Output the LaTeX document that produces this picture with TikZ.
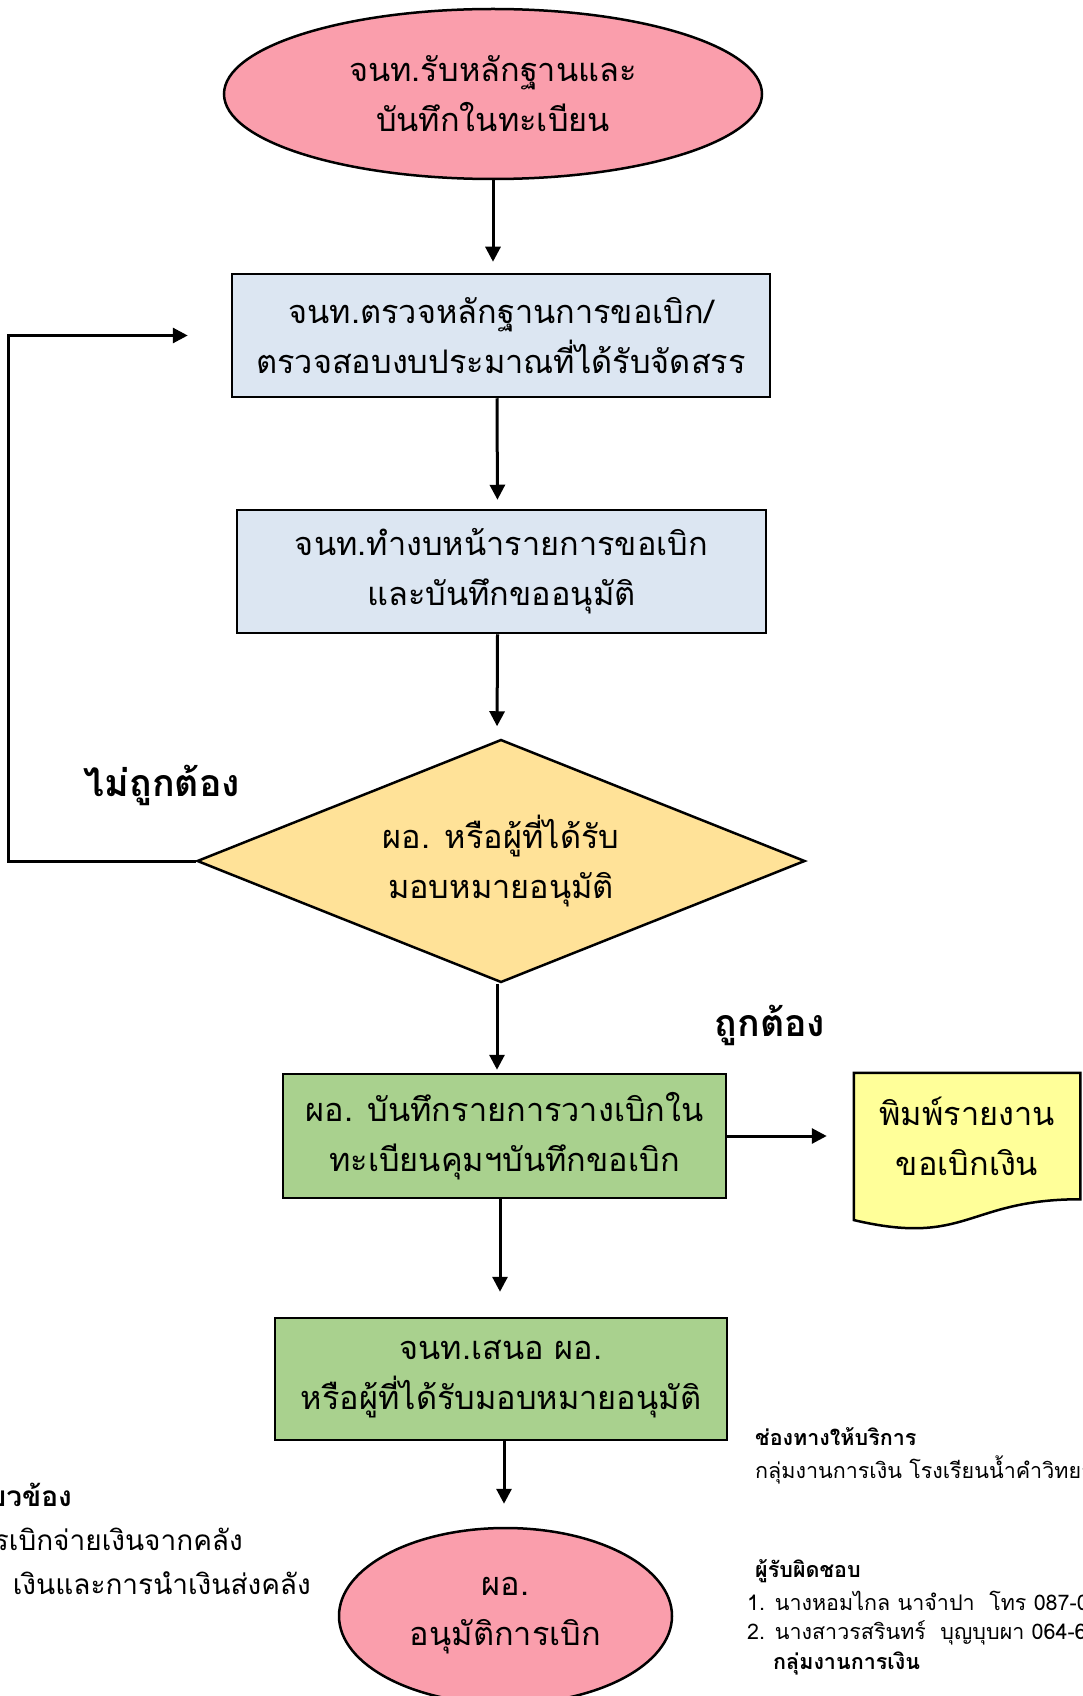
\documentclass[tikz,border=0pt]{standalone}
\usepackage{fontspec}
\usetikzlibrary{shapes.geometric,arrows.meta,calc,backgrounds}
\newfontfamily\thaifont[Script=Thai]{Loma}
\definecolor{pinkfill}{RGB}{250,158,172}
\definecolor{bluefill}{RGB}{220,230,242}
\definecolor{yellowfill}{RGB}{255,226,152}
\definecolor{greenfill}{RGB}{169,209,142}
\definecolor{docfill}{RGB}{255,255,153}
\tikzset{
  nodebase/.style={font=\thaifont\fontsize{32.5}{50}\selectfont, align=center, inner sep=0pt, line width=2.5pt, draw=black},
  term/.style={nodebase, ellipse, fill=pinkfill},
  procbox/.style={nodebase, rectangle, fill=bluefill},
  greenbox/.style={nodebase, rectangle, fill=greenfill},
  decision/.style={nodebase, diamond, fill=yellowfill, aspect=2.5},
  flow/.style={line width=3pt, -{Triangle[length=15pt,width=15pt]}},
  lbl/.style={font=\thaifont\bfseries\fontsize{37.5}{44}\selectfont, inner sep=0pt},
  smallbold/.style={font=\thaifont\bfseries\fontsize{21.5}{26}\selectfont, inner sep=0pt, anchor=west},
  smalltxt/.style={font=\thaifont\fontsize{21.5}{26}\selectfont, inner sep=0pt, anchor=west},
  lefttxt/.style={font=\thaifont\fontsize{28}{34}\selectfont, inner sep=0pt, anchor=east},
  leftbold/.style={font=\thaifont\bfseries\fontsize{28}{34}\selectfont, inner sep=0pt, anchor=east}
}
\begin{document}
\begin{tikzpicture}[x=1pt,y=-1pt]
\useasboundingbox (0,0) rectangle (1083,1696);
\clip (0,0) rectangle (1083,1696);

\node[term, minimum width=538pt, minimum height=170pt] (top) at (493,94) {จนท.รับหลักฐานและ\\บันทึกในทะเบียน};
\node[procbox, minimum width=538pt, minimum height=123pt] (box1) at (501,335.5) {จนท.ตรวจหลักฐานการขอเบิก/\\ตรวจสอบงบประมาณที่ได้รับจัดสรร};
\node[procbox, minimum width=529pt, minimum height=123pt] (box2) at (501.5,571.5) {จนท.ทำงบหน้ารายการขอเบิก\\และบันทึกขออนุมัติ};
\node[decision, minimum width=608pt, minimum height=243pt] (dia) at (501,861) {ผอ. หรือผู้ที่ได้รับ\\มอบหมายอนุมัติ};
\node[greenbox, minimum width=443pt, minimum height=124pt] (box3) at (504.5,1136) {ผอ. บันทึกรายการวางเบิกใน\\ทะเบียนคุมฯบันทึกขอเบิก};
\node[nodebase, draw=none, minimum width=224pt, minimum height=124pt] (doc) at (967,1136) {พิมพ์รายงาน\\ขอเบิกเงิน};
\begin{scope}[on background layer]
\fill[white] (0,0) rectangle (1083,1696);
\filldraw[fill=docfill, draw=black, line width=2.5pt]
  (doc.north west) -- (doc.north east) -- (doc.south east)
  .. controls (doc.south) and ($(doc.south)+(0,47.6)$) .. ($(doc.south west)+(0,20.8)$) -- cycle;
\end{scope}
\node[greenbox, minimum width=452pt, minimum height=122pt] (box4) at (501,1379) {จนท.เสนอ ผอ.\\หรือผู้ที่ได้รับมอบหมายอนุมัติ};
\node[term, minimum width=333pt, minimum height=176pt] (bot) at (505.5,1616) {ผอ.\\อนุมัติการเบิก};

\node[lbl] (nolbl) at (162,785) {ไม่ถูกต้อง};
\node[lbl] (yeslbl) at (770,1025) {ถูกต้อง};

\draw[flow, shorten >=11pt] (top.south) -- (top.south |- box1.north);
\draw[flow, shorten >=9pt] ($(box1.south)+(-4,0)$) -- ($(box2.north)+(-4,0)$);
\draw[flow, shorten >=12pt] ($(box2.south)+(-4,0)$) -- ($(dia.north)+(-4,0)$);
\draw[flow, shorten >=3pt] ($(dia.south)+(-4,0)$) -- ($(box3.north)+(-7.5,0)$);
\draw[flow, shorten >=27pt] (box3.east) -- (doc.west);
\draw[flow, shorten >=25pt] ($(box3.south)+(-4.5,0)$) -- ($(box3.south |- box4.north)+(-4.5,0)$);
\draw[flow, shorten >=23pt] ($(box4.south)+(3,0)$) -- ($(box4.south |- bot.north)+(3,0)$);
\draw[flow, shorten >=43pt] (dia.west) -- ++(-187,0) |- (box1.west);

\node[leftbold] (lt1) at (72,1495) {ยวข้อง};
\node[lefttxt] (lt2) at (243,1539) {รเบิกจ่ายเงินจากคลัง};
\node[lefttxt] (lt3) at (311,1583) {เงินและการนำเงินส่งคลัง};

\node[smallbold] (rt1) at (755,1437) {ช่องทางให้บริการ};
\node[smalltxt] (rt2) at (755,1470) {กลุ่มงานการเงิน โรงเรียนน้ำคำวิทยา};
\node[smallbold] (rt3) at (755,1571) {ผู้รับผิดชอบ};
\node[smalltxt] (rt4) at (747,1601) {1. นางหอมไกล นาจำปา\ \ โทร 087-0};
\node[smalltxt] (rt5) at (747,1633) {2. นางสาวรสรินทร์\ \ บุญบุบผา 064-6};
\node[smallbold] (rt6) at (773,1663) {กลุ่มงานการเงิน};
\end{tikzpicture}
\end{document}
